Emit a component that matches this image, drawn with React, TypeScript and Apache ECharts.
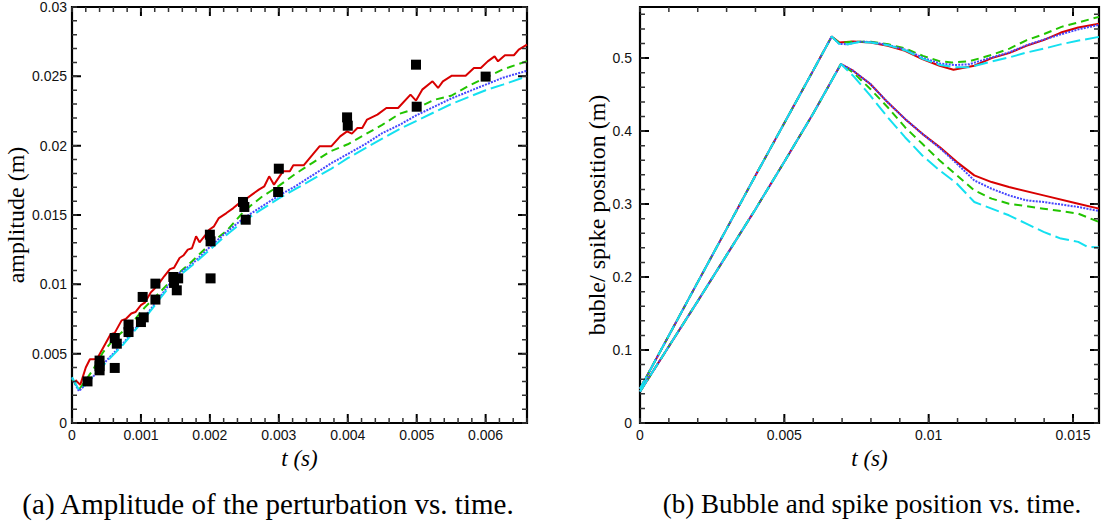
import React, { useEffect, useRef } from "react";
import * as echarts from "echarts";

// ---------- (a) amplitude vs time ----------
const expAmp: [number, number][] = [
  [0.000225, 0.003], [0.0004, 0.0045], [0.0004, 0.0041], [0.0004, 0.0038],
  [0.00062, 0.00613], [0.00065, 0.00572], [0.00062, 0.00397],
  [0.00082, 0.0071], [0.00082, 0.00656],
  [0.001025, 0.00909], [0.001, 0.00728], [0.00104, 0.00762],
  [0.00121, 0.01005], [0.00121, 0.0089],
  [0.00147, 0.01053], [0.00154, 0.01043], [0.00148, 0.0101], [0.00152, 0.00957],
  [0.002, 0.01358], [0.00201, 0.0131], [0.00201, 0.01043],
  [0.00248, 0.01594], [0.0025, 0.01558], [0.00252, 0.01466],
  [0.003, 0.01834], [0.00299, 0.01666],
  [0.00399, 0.02204], [0.004, 0.02144],
  [0.00499, 0.02584], [0.005, 0.02281],
  [0.006, 0.02498],
];

const ampRed: [number, number][] = [
  [0.00005, 0.0031], [0.00012, 0.00275], [0.0002, 0.004], [0.00026, 0.0046], [0.00036, 0.0046],
  [0.00056, 0.0064], [0.00062, 0.0065], [0.00072, 0.0074], [0.00078, 0.0075], [0.00086, 0.0079],
  [0.00092, 0.008], [0.001, 0.0085], [0.00106, 0.0087], [0.00114, 0.0094], [0.0012, 0.0097],
  [0.00128, 0.0102], [0.00134, 0.0106], [0.00142, 0.0111], [0.00148, 0.0112], [0.00156, 0.0119],
  [0.00162, 0.0121], [0.00168, 0.0125], [0.00174, 0.0126], [0.0018, 0.01346], [0.00185, 0.01303],
  [0.00194, 0.01358], [0.00199, 0.01394], [0.00206, 0.01418], [0.00213, 0.01478], [0.00224, 0.01514],
  [0.00234, 0.0155], [0.00244, 0.01591], [0.00251, 0.0161], [0.00261, 0.01647], [0.00271, 0.01683],
  [0.00279, 0.01707], [0.00286, 0.01779], [0.00293, 0.01719], [0.00306, 0.01815], [0.00316, 0.01815],
  [0.00321, 0.01858], [0.00336, 0.01858], [0.00349, 0.01935], [0.00359, 0.01995], [0.00376, 0.01995],
  [0.00389, 0.02067], [0.00399, 0.02103], [0.00406, 0.02087], [0.00414, 0.02127], [0.00421, 0.02127],
  [0.00428, 0.02188], [0.00443, 0.02224], [0.00456, 0.02272], [0.00473, 0.02272], [0.00491, 0.02368],
  [0.00499, 0.02325], [0.00508, 0.02404], [0.00523, 0.02464], [0.00531, 0.02416], [0.00538, 0.02464],
  [0.00551, 0.02505], [0.00571, 0.02505], [0.00583, 0.0256], [0.00593, 0.0256], [0.00603, 0.02608],
  [0.00613, 0.02644], [0.00618, 0.02608], [0.00628, 0.02652], [0.00641, 0.02652], [0.00648, 0.02692],
  [0.0066, 0.02728],
];

const ampGreen: [number, number][] = [
  [0, 0.0032], [0.0001, 0.0024], [0.0003, 0.0038], [0.00045, 0.0051], [0.0006, 0.006],
  [0.00085, 0.0071], [0.00105, 0.0083], [0.00125, 0.0093], [0.0015, 0.0106], [0.00175, 0.0117],
  [0.002, 0.0129], [0.00225, 0.0139], [0.0025, 0.0153], [0.00275, 0.0163], [0.003, 0.0171],
  [0.00325, 0.018], [0.0035, 0.0188], [0.00375, 0.0196], [0.004, 0.0201], [0.00425, 0.0208],
  [0.0045, 0.0215], [0.00475, 0.0223], [0.005, 0.0227], [0.00525, 0.0233], [0.0055, 0.0236],
  [0.00575, 0.0243], [0.006, 0.0249], [0.00625, 0.0255], [0.0066, 0.0261],
];

const ampBlue: [number, number][] = [
  [0, 0.00325], [0.0001, 0.0023], [0.00025, 0.003], [0.0005, 0.0045], [0.00075, 0.0058],
  [0.001, 0.0073], [0.00125, 0.0089], [0.0015, 0.0106], [0.00175, 0.0115], [0.002, 0.0127],
  [0.00225, 0.0138], [0.0025, 0.0148], [0.00275, 0.0156], [0.003, 0.0164], [0.00325, 0.0171],
  [0.0035, 0.0179], [0.00375, 0.0187], [0.004, 0.0194], [0.00425, 0.0201], [0.0045, 0.0209],
  [0.00475, 0.0215], [0.005, 0.0222], [0.00525, 0.0228], [0.0055, 0.0234], [0.00575, 0.0239],
  [0.006, 0.0244], [0.00625, 0.0249], [0.0066, 0.0254],
];

const ampCyan: [number, number][] = [
  [0, 0.0033], [0.0001, 0.0024], [0.0002, 0.0028], [0.0005, 0.0044], [0.00075, 0.0057],
  [0.001, 0.0072], [0.00125, 0.0088], [0.0015, 0.0104], [0.00175, 0.0114], [0.002, 0.0125],
  [0.00225, 0.0136], [0.0025, 0.0146], [0.00275, 0.0154], [0.003, 0.0162], [0.00325, 0.0169],
  [0.0035, 0.0176], [0.00375, 0.0183], [0.004, 0.0191], [0.00425, 0.0198], [0.0045, 0.0205],
  [0.00475, 0.0212], [0.005, 0.0218], [0.00525, 0.0224], [0.0055, 0.023], [0.00575, 0.0235],
  [0.006, 0.024], [0.00625, 0.0244], [0.0066, 0.025],
];

// ---------- (b) bubble / spike position vs time ----------
const riseUpper: [number, number][] = [
  [0, 0.047], [0.001, 0.12], [0.002, 0.193], [0.003, 0.266], [0.004, 0.339],
  [0.005, 0.411], [0.006, 0.483], [0.00664, 0.5295],
];
const riseLower: [number, number][] = [
  [0, 0.043], [0.001, 0.105], [0.002, 0.167], [0.003, 0.23], [0.004, 0.293],
  [0.005, 0.358], [0.006, 0.424], [0.00696, 0.4918],
];

const upperRed: [number, number][] = [
  [0.0069, 0.5215], [0.00738, 0.5228], [0.00798, 0.5214], [0.00858, 0.5168], [0.00918, 0.51],
  [0.00978, 0.4986], [0.01038, 0.4895], [0.01086, 0.484], [0.01158, 0.4895], [0.01218, 0.5],
  [0.01278, 0.5068], [0.01338, 0.5168], [0.01398, 0.5246], [0.01458, 0.535], [0.01518, 0.5419],
  [0.0159, 0.547],
];
const upperGreen: [number, number][] = [
  [0.0069, 0.5205], [0.0074, 0.5225], [0.008, 0.5225], [0.0086, 0.519], [0.0092, 0.513],
  [0.0098, 0.503], [0.0104, 0.4955], [0.0108, 0.494], [0.0114, 0.4955], [0.0122, 0.5046],
  [0.0128, 0.513], [0.0134, 0.5246], [0.014, 0.533], [0.0146, 0.5428], [0.0152, 0.549],
  [0.0159, 0.5565],
];
const upperBlue: [number, number][] = [
  [0.0069, 0.5195], [0.0072, 0.519], [0.0076, 0.5225], [0.008, 0.522], [0.0086, 0.518],
  [0.0092, 0.5115], [0.0098, 0.5005], [0.0104, 0.4925], [0.0109, 0.4905], [0.0114, 0.4915],
  [0.0122, 0.501], [0.0128, 0.508], [0.0134, 0.5178], [0.014, 0.5255], [0.0146, 0.5328],
  [0.0152, 0.5395], [0.0159, 0.5455],
];
const upperCyan: [number, number][] = [
  [0.0069, 0.5195], [0.0072, 0.519], [0.0076, 0.522], [0.008, 0.5215], [0.0086, 0.5175],
  [0.0092, 0.5105], [0.0098, 0.499], [0.0104, 0.4905], [0.0109, 0.4875], [0.0114, 0.4875],
  [0.0122, 0.4955], [0.0128, 0.501], [0.0134, 0.5077], [0.014, 0.513], [0.0146, 0.5191],
  [0.0152, 0.524], [0.0159, 0.5291],
];

const lowerRed: [number, number][] = [
  [0.00738, 0.4827], [0.00798, 0.4645], [0.00858, 0.4394], [0.00918, 0.4167], [0.00978, 0.3962],
  [0.01038, 0.378], [0.01098, 0.3575], [0.01158, 0.3393], [0.01218, 0.3301], [0.01278, 0.3233],
  [0.01398, 0.3119], [0.01518, 0.3005], [0.0159, 0.2937],
];
const lowerGreen: [number, number][] = [
  [0.00738, 0.4804], [0.00798, 0.4577], [0.00858, 0.4326], [0.00918, 0.4053], [0.00978, 0.3825],
  [0.01038, 0.3597], [0.01098, 0.3393], [0.01158, 0.3188], [0.01218, 0.3074], [0.01278, 0.3005],
  [0.01398, 0.2937], [0.01518, 0.2869], [0.0159, 0.2755],
];
const lowerBlue: [number, number][] = [
  [0.00738, 0.4827], [0.00798, 0.4645], [0.00858, 0.4394], [0.00918, 0.4167], [0.00978, 0.3962],
  [0.01038, 0.377], [0.01098, 0.3552], [0.01158, 0.3324], [0.01218, 0.321], [0.01278, 0.3119],
  [0.01338, 0.3051], [0.01398, 0.3028], [0.01518, 0.296], [0.0159, 0.2905],
];
const lowerCyan: [number, number][] = [
  [0.00738, 0.4759], [0.00798, 0.4485], [0.00858, 0.4189], [0.00918, 0.3916], [0.00978, 0.3666],
  [0.01038, 0.3461], [0.01098, 0.3279], [0.01158, 0.3028], [0.01218, 0.2937], [0.01278, 0.2846],
  [0.01338, 0.2732], [0.01398, 0.2618], [0.01458, 0.2527], [0.01518, 0.2482], [0.0155, 0.2413],
  [0.0159, 0.2404],
];

// ---------- axes ----------
const axA = { xMin: 0, xMax: 0.0066, xMajor: 0.001, xMinor: 0.0002, yMin: 0, yMax: 0.03, yMajor: 0.005, yMinor: 0.001 };
const axB = { xMin: 0, xMax: 0.0159, xMajor: 0.005, xMinor: 0.001, yMin: 0, yMax: 0.57, yMajor: 0.1, yMinor: 0.02 };

const captionA = "(a) Amplitude of the perturbation vs. time.";
const captionB = "(b) Bubble and spike position vs. time.";

const RED = "#d80000";
const GREEN = "#22c400";
const BLUE = "#4646ff";
const CYAN = "#14e0f0";

const SERIF = "Liberation Serif";

const GRID_A = { left: 72, top: 7, width: 455, height: 416 };
const GRID_B = { left: 640, top: 7, width: 459, height: 416 };

const styles: Record<string, any> = {
  red: { color: RED, width: 2, type: "solid" },
  green: { color: GREEN, width: 2, type: [8, 5] },
  blue: { color: BLUE, width: 2, type: [2, 1.2] },
  cyan: { color: CYAN, width: 2, type: [14, 5] },
};

function fmt(v: number) {
  return String(parseFloat(v.toPrecision(6)));
}

function steps(min: number, max: number, step: number): number[] {
  const n = Math.floor((max - min) / step + 1e-6);
  return Array.from({ length: n + 1 }, (_, i) => parseFloat((min + i * step).toPrecision(10)));
}

function xAxisDef(gridIndex: number, ax: typeof axA, name: string) {
  return {
    type: "value",
    gridIndex,
    min: ax.xMin,
    max: ax.xMax,
    interval: ax.xMajor,
    name,
    nameLocation: "middle",
    nameGap: 18,
    nameTextStyle: { fontFamily: SERIF, fontSize: 23, fontStyle: "italic", color: "#000" },
    axisLine: { show: false, onZero: false },
    axisTick: { show: false },
    axisLabel: {
      margin: 5,
      color: "#111",
      fontFamily: "Liberation Sans",
      fontSize: 14,
      formatter: (v: number) => {
        const r = v / ax.xMajor;
        return Math.abs(r - Math.round(r)) < 1e-6 ? fmt(v) : "";
      },
    },
    splitLine: { show: false },
  };
}

function yAxisDef(gridIndex: number, ax: typeof axA, name: string, gap: number, margin: number) {
  return {
    type: "value",
    gridIndex,
    min: ax.yMin,
    max: ax.yMax,
    interval: ax.yMajor,
    name,
    nameLocation: "middle",
    nameRotate: 90,
    nameGap: gap,
    nameTextStyle: { fontFamily: SERIF, fontSize: 24, color: "#000" },
    axisLine: { show: false, onZero: false },
    axisTick: { show: false },
    axisLabel: {
      margin,
      color: "#111",
      fontFamily: "Liberation Sans",
      fontSize: 14,
      formatter: (v: number) => {
        const r = v / ax.yMajor;
        return Math.abs(r - Math.round(r)) < 1e-6 ? fmt(v) : "";
      },
    },
    splitLine: { show: false },
  };
}

// inward tick marks on all four sides, drawn as broken line series through the axes' scales
function tickLines(ax: typeof axA, g: { width: number; height: number }, xi: number, yi: number, major: boolean): any {
  const lenPx = major ? 9 : 5;
  const dy = (lenPx / g.height) * (ax.yMax - ax.yMin);
  const dx = (lenPx / g.width) * (ax.xMax - ax.xMin);
  const xs = steps(ax.xMin, ax.xMax, major ? ax.xMajor : ax.xMinor);
  const ys = steps(ax.yMin, ax.yMax, major ? ax.yMajor : ax.yMinor);
  const gap = [NaN, NaN];
  const data: number[][] = [];
  xs.forEach((v) => {
    data.push([v, ax.yMin], [v, ax.yMin + dy], gap);
    data.push([v, ax.yMax], [v, ax.yMax - dy], gap);
  });
  ys.forEach((v) => {
    data.push([ax.xMin, v], [ax.xMin + dx, v], gap);
    data.push([ax.xMax, v], [ax.xMax - dx, v], gap);
  });
  return {
    type: "line",
    xAxisIndex: xi,
    yAxisIndex: yi,
    data,
    symbol: "none",
    showSymbol: false,
    connectNulls: false,
    clip: false,
    lineStyle: { color: major ? "#000" : "#333", width: major ? 2 : 1.5, type: "solid", cap: "butt" },
    z: 20,
  };
}

export default function App() {
  const ref = useRef<HTMLDivElement>(null);
  useEffect(() => {
    if (!ref.current) return;
    const chart = echarts.init(ref.current, undefined, { renderer: "svg" });

    const line = (data: [number, number][], key: string, xi: number, yi: number) => ({
      type: "line",
      data,
      xAxisIndex: xi,
      yAxisIndex: yi,
      symbol: "none",
      showSymbol: false,
      lineStyle: styles[key],
      z: 2,
    });

    const series: any[] = [
      line(ampRed, "red", 0, 0),
      line(ampGreen, "green", 0, 0),
      line(ampBlue, "blue", 0, 0),
      line(ampCyan, "cyan", 0, 0),
      {
        type: "scatter",
        data: expAmp,
        xAxisIndex: 0,
        yAxisIndex: 0,
        symbol: "rect",
        symbolSize: 10,
        itemStyle: { color: "#000", opacity: 1 },
        z: 3,
      },
      line([...riseUpper, ...upperRed], "red", 1, 1),
      line([...riseLower, ...lowerRed], "red", 1, 1),
      line([...riseUpper, ...upperGreen], "green", 1, 1),
      line([...riseLower, ...lowerGreen], "green", 1, 1),
      line([...riseUpper, ...upperBlue], "blue", 1, 1),
      line([...riseLower, ...lowerBlue], "blue", 1, 1),
      line([...riseUpper, ...upperCyan], "cyan", 1, 1),
      line([...riseLower, ...lowerCyan], "cyan", 1, 1),
      tickLines(axA, GRID_A, 0, 0, true),
      tickLines(axA, GRID_A, 0, 0, false),
      tickLines(axB, GRID_B, 1, 1, true),
      tickLines(axB, GRID_B, 1, 1, false),
    ];

    const captionStyle = (size: number) => ({
      fontFamily: SERIF,
      fontSize: size,
      fontWeight: "normal",
      color: "#000",
    });

    const frame = { show: true, borderColor: "#000", borderWidth: 2.2, backgroundColor: "transparent" };

    chart.setOption({
      animation: false,
      backgroundColor: "#fff",
      title: [
        { text: captionA, left: 268, top: 489, textAlign: "center", padding: 0, textStyle: captionStyle(29) },
        { text: captionB, left: 872, top: 490, textAlign: "center", padding: 0, textStyle: captionStyle(27) },
      ],
      grid: [
        { ...GRID_A, ...frame },
        { ...GRID_B, ...frame },
      ],
      xAxis: [xAxisDef(0, axA, "t (s)"), xAxisDef(1, axB, "t (s)")],
      yAxis: [
        yAxisDef(0, axA, "amplitude (m)", 41, 5),
        yAxisDef(1, axB, "buble/ spike position (m)", 27, 8),
      ],
      series,
    });
    return () => chart.dispose();
  }, []);
  return (
    <div
      ref={ref}
      style={{ position: "fixed", left: 0, top: 0, width: 1102, height: 527, background: "#fff" }}
    />
  );
}
